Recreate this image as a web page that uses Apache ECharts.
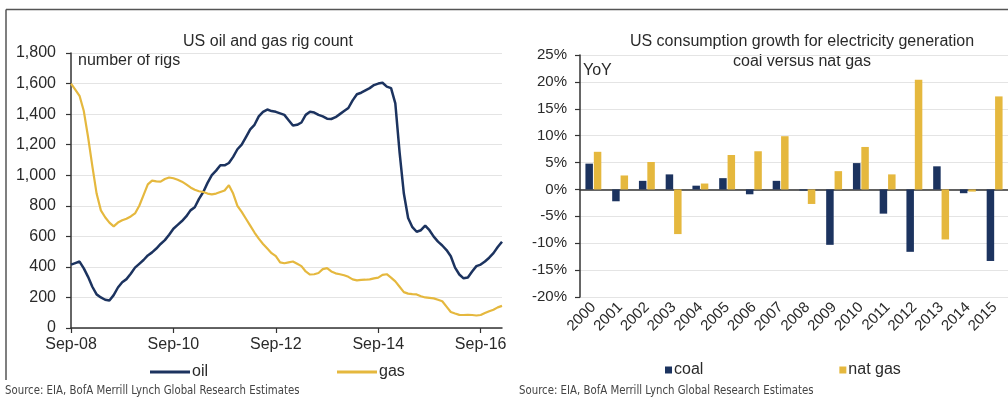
<!DOCTYPE html>
<html><head><meta charset="utf-8">
<script src="https://cdn.jsdelivr.net/npm/echarts@6/dist/echarts.min.js"></script>
<style>html,body{margin:0;padding:0;background:#fff}#c{width:1008px;height:401px}</style>
</head><body><div id="c"></div>
<script>
// ---- Left chart: US oil and gas rig count (monthly, Sep-08 .. Feb-17) ----
const rigStartYear = 2008;   // first month: Sep-08
const rigStartMonth = 8;     // 0-based (8 = Sep)
const monthNames = ['Jan','Feb','Mar','Apr','May','Jun','Jul','Aug','Sep','Oct','Nov','Dec'];
const oilRigs = [
  415,425,435,390,335,270,220,200,185,180,215,265,
  300,320,355,395,420,445,475,495,520,550,575,610,
  650,675,700,730,770,790,845,890,950,1000,1030,1065,
  1065,1080,1120,1170,1200,1250,1300,1330,1385,1415,1430,1420,
  1415,1405,1395,1360,1325,1330,1345,1395,1415,1410,1395,1385,
  1370,1368,1380,1400,1420,1440,1490,1530,1540,1555,1570,1590,
  1600,1605,1580,1570,1470,1150,880,720,660,630,640,670,
  640,598,565,540,510,470,395,350,325,330,370,405,
  415,435,460,490,530,565
];
const gasRigs = [
  1600,1560,1520,1420,1250,1060,880,770,725,690,665,690,
  705,715,730,750,800,870,940,965,960,958,975,985,
  980,970,958,940,920,905,895,890,880,875,880,890,
  900,935,880,800,760,715,670,625,585,550,520,490,
  470,430,424,430,435,420,405,370,350,352,360,385,
  392,370,358,352,345,335,318,312,315,316,318,325,
  330,348,352,330,305,270,235,225,222,220,208,200,
  197,194,185,175,140,105,95,86,85,86,85,82,
  85,98,110,120,135,145
];
const rigMonths = oilRigs.map((_, i) => {
  const m = rigStartMonth + i;
  const y = (rigStartYear + Math.floor(m / 12)) % 100;
  return monthNames[m % 12] + '-' + String(y).padStart(2, '0');
});

// ---- Right chart: YoY consumption growth, coal vs nat gas ----
const years = ['2000','2001','2002','2003','2004','2005','2006','2007','2008','2009','2010','2011','2012','2013','2014','2015'];
const coalGrowth = [4.8,-2.2,1.6,2.8,0.7,2.1,-0.9,1.6,-0.2,-10.3,4.9,-4.5,-11.6,4.3,-0.7,-13.3];
const gasGrowth  = [7.0,2.6,5.1,-8.3,1.1,6.4,7.1,9.9,-2.7,3.4,7.9,2.8,20.4,-9.3,-0.4,17.3];

const NAVY = '#1c335f';
const GOLD = '#e5b83e';
const FONT = '"Liberation Sans", Arial, sans-serif';
const TXT = '#2a2a2a';
const AX = '#333';
const SRC = 'Source: EIA, BofA Merrill Lynch Global Research Estimates';

const chart = echarts.init(document.getElementById('c'), null, {renderer: 'canvas'});
const every24 = (idx) => idx % 24 === 0;

chart.setOption({
  animation: false,
  textStyle: {fontFamily: FONT},
  grid: [
    {left: 71, top: 53, width: 431, height: 275},
    {left: 580, top: 55, width: 428, height: 242}
  ],
  xAxis: [
    {
      gridIndex: 0, type: 'category', data: rigMonths, boundaryGap: false,
      axisLine: {lineStyle: {color: AX, width: 1.5}},
      axisTick: {interval: every24, length: 5, lineStyle: {color: AX, width: 1.2}},
      axisLabel: {interval: every24, color: TXT, fontSize: 16, fontFamily: FONT, margin: 9},
      splitLine: {show: false}
    },
    {
      gridIndex: 1, type: 'category', data: years, position: 'bottom',
      axisLine: {onZero: true, lineStyle: {color: AX, width: 1.5}},
      axisTick: {length: 5, lineStyle: {color: AX, width: 1.2}},
      axisLabel: {show: false},
      splitLine: {show: false}
    },
    {
      gridIndex: 1, type: 'category', data: years, position: 'bottom',
      axisLine: {show: false, onZero: false},
      axisTick: {show: false},
      axisLabel: {rotate: 45, color: TXT, fontSize: 15, fontFamily: FONT, margin: 8, interval: 0},
      splitLine: {show: false}
    }
  ],
  yAxis: [
    {
      gridIndex: 0, type: 'value', min: 0, max: 1800, interval: 200,
      axisLine: {show: true, lineStyle: {color: AX, width: 1.5}},
      axisTick: {show: true, length: 5, lineStyle: {color: AX, width: 1.2}},
      axisLabel: {color: TXT, fontSize: 16, fontFamily: FONT, margin: 15,
        formatter: v => v.toLocaleString('en-US')},
      splitLine: {lineStyle: {color: '#e4e4e4', width: 1}}
    },
    {
      gridIndex: 1, type: 'value', min: -20, max: 25, interval: 5,
      axisLine: {show: true, lineStyle: {color: AX, width: 1.5}},
      axisTick: {show: true, length: 5, lineStyle: {color: AX, width: 1.2}},
      axisLabel: {color: TXT, fontSize: 15, fontFamily: FONT, margin: 13,
        formatter: v => v + '%'},
      splitLine: {lineStyle: {color: '#e4e4e4', width: 1}}
    }
  ],
  legend: [
    {
      data: [{name: 'oil'}, {name: 'gas'}],
      left: 145, top: 359, orient: 'horizontal',
      icon: 'rect', itemWidth: 40, itemHeight: 3, itemGap: 129,
      textStyle: {color: TXT, fontSize: 16, fontFamily: FONT, padding: [0,0,0,-3]}
    },
    {
      data: [{name: 'coal'}, {name: 'nat gas'}],
      left: 660, top: 357, orient: 'horizontal',
      icon: 'rect', itemWidth: 7, itemHeight: 7, itemGap: 136,
      textStyle: {color: TXT, fontSize: 16, fontFamily: FONT, padding: [0,0,0,-3]}
    }
  ],
  series: [
    {name: 'oil', type: 'line', xAxisIndex: 0, yAxisIndex: 0, data: oilRigs,
      showSymbol: false, lineStyle: {color: NAVY, width: 2.5}, itemStyle: {color: NAVY}},
    {name: 'gas', type: 'line', xAxisIndex: 0, yAxisIndex: 0, data: gasRigs,
      showSymbol: false, lineStyle: {color: GOLD, width: 2.2}, itemStyle: {color: GOLD}},
    {name: 'coal', type: 'bar', xAxisIndex: 1, yAxisIndex: 1, data: coalGrowth,
      barWidth: 7.5, barGap: '12%', itemStyle: {color: NAVY}},
    {name: 'nat gas', type: 'bar', xAxisIndex: 1, yAxisIndex: 1, data: gasGrowth,
      barWidth: 7.5, barGap: '12%', itemStyle: {color: GOLD}}
  ],
  graphic: [
    {type: 'line', shape: {x1: 6, y1: 9.5, x2: 1008, y2: 9.5}, style: {stroke: '#555', lineWidth: 1.5}, silent: true},
    {type: 'line', shape: {x1: 6, y1: 9.5, x2: 6, y2: 380}, style: {stroke: '#555', lineWidth: 1.5}, silent: true},
    {type: 'text', x: 268, y: 42, style: {text: 'US oil and gas rig count', font: '16px ' + FONT, fill: TXT, textAlign: 'center', textVerticalAlign: 'middle'}},
    {type: 'text', x: 78, y: 61, style: {text: 'number of rigs', font: '16px ' + FONT, fill: TXT, textAlign: 'left', textVerticalAlign: 'middle'}},
    {type: 'text', x: 802, y: 42, style: {text: 'US consumption growth for electricity generation', font: '16px ' + FONT, fill: TXT, textAlign: 'center', textVerticalAlign: 'middle'}},
    {type: 'text', x: 802, y: 62, style: {text: 'coal versus nat gas', font: '16px ' + FONT, fill: TXT, textAlign: 'center', textVerticalAlign: 'middle'}},
    {type: 'text', x: 583, y: 71, style: {text: 'YoY', font: '16px ' + FONT, fill: TXT, textAlign: 'left', textVerticalAlign: 'middle'}},
    {type: 'text', x: 5, y: 391, scaleX: 0.87, style: {text: SRC, font: '13px "DejaVu Sans Condensed", "Liberation Sans", sans-serif', fill: '#444', textAlign: 'left', textVerticalAlign: 'middle'}},
    {type: 'text', x: 519, y: 391, scaleX: 0.87, style: {text: SRC, font: '13px "DejaVu Sans Condensed", "Liberation Sans", sans-serif', fill: '#444', textAlign: 'left', textVerticalAlign: 'middle'}}
  ]
});
</script>
</body></html>
